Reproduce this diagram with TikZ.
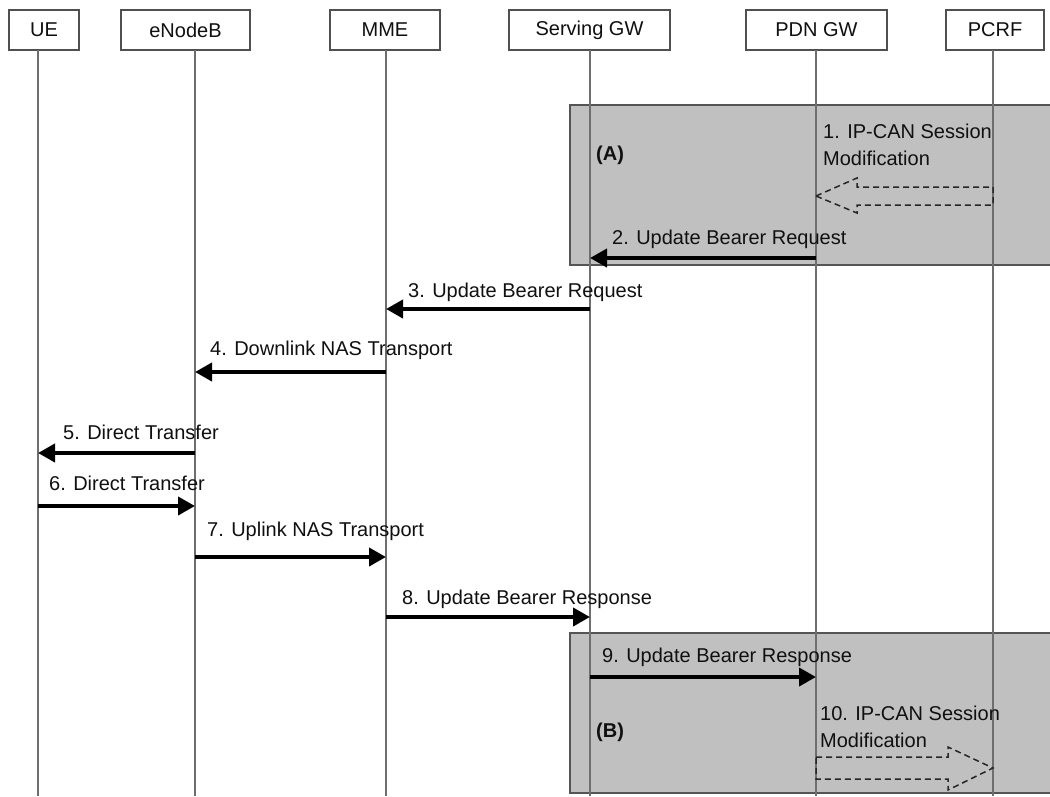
\documentclass[tikz,border=0pt]{standalone}
\usepackage{fontspec}
\setmainfont{Liberation Sans}
\usetikzlibrary{arrows.meta}
\definecolor{hdrc}{HTML}{505050}
\definecolor{lifec}{HTML}{6E6E6E}
\definecolor{regc}{HTML}{C0C0C0}
\definecolor{regb}{HTML}{555555}
\definecolor{txt}{HTML}{101010}
\begin{document}
\begin{tikzpicture}[x=1pt,y=-1pt,
  hdr/.style={draw=hdrc, line width=1.5pt, fill=white, minimum height=40pt, inner sep=0pt, font=\fontsize{20}{24}\selectfont, text=txt},
  life/.style={draw=lifec, line width=1.4pt},
  region/.style={fill=regc, draw=regb, line width=1.5pt},
  msg/.style={line width=4pt, -{Triangle[length=17pt,width=18pt]}},
  lbl/.style={anchor=base west, inner sep=0pt, font=\fontsize{20}{24}\selectfont, text=txt},
  blk/.style={draw=black!85, dash pattern=on 6pt off 4pt, line width=1.5pt},
]
\useasboundingbox[fill=white] (0,0) rectangle (1050,796);

% shaded regions
\fill[region] (570,105) rectangle (1060,265);
\fill[region] (570,633) rectangle (1060,793);
\draw[regb, line width=1.5pt] (1060,105) -- (570,105) -- (570,265) -- (1060,265);
\draw[regb, line width=1.5pt] (1060,633) -- (570,633) -- (570,793) -- (1060,793);

% headers
\node[hdr, minimum width=70pt]  (ue)   at (44,30)    {UE};
\node[hdr, minimum width=129pt] (enb)  at (185.5,30) {eNodeB};
\node[hdr, minimum width=110pt] (mme)  at (385,30)   {MME};
\node[hdr, minimum width=161pt] (sgw)  at (589.5,30) {Serving GW};
\node[hdr, minimum width=141pt] (pdn)  at (816.5,30) {PDN GW};
\node[hdr, minimum width=98pt]  (pcrf) at (995,30)   {PCRF};

% lifelines
\coordinate (lUE)   at (38,50);
\coordinate (lENB)  at (195,50);
\coordinate (lMME)  at (386,50);
\coordinate (lSGW)  at (590,50);
\coordinate (lPDN)  at (816,50);
\coordinate (lPCRF) at (993,50);
\foreach \c in {lUE,lENB,lMME,lSGW,lPDN,lPCRF}
  \draw[life] (\c) -- (\c |- 0,796);

% region labels
\node[lbl, font=\fontsize{20}{24}\selectfont\bfseries] (ra) at (596,160) {(A)};
\node[lbl, font=\fontsize{20}{24}\selectfont\bfseries] (rb) at (596,737) {(B)};

% 1. IP-CAN Session Modification (dashed block arrow to the left)
\node[lbl] (l1a) at (823,138) {1. IP-CAN Session};
\node[lbl] (l1b) at (823,165) {Modification};
\draw[blk] (lPDN |- 0,196) -- (857,178) -- (857,187) -- (lPCRF |- 0,187)
  -- (lPCRF |- 0,205) -- (857,205) -- (857,213) -- cycle;

% messages
\draw[msg] (lPDN |- 0,258) -- (lSGW |- 0,258);
\node[lbl] (l2) at (612,244) {2. Update Bearer Request};

\draw[msg] (lSGW |- 0,309) -- (lMME |- 0,309);
\node[lbl] (l3) at (408,297) {3. Update Bearer Request};

\draw[msg] (lMME |- 0,372) -- (lENB |- 0,372);
\node[lbl] (l4) at (210,355) {4. Downlink NAS Transport};

\draw[msg] (lENB |- 0,453) -- (lUE |- 0,453);
\node[lbl] (l5) at (63,439) {5. Direct Transfer};

\draw[msg] (lUE |- 0,506) -- (lENB |- 0,506);
\node[lbl] (l6) at (49,490) {6. Direct Transfer};

\draw[msg] (lENB |- 0,557) -- (lMME |- 0,557);
\node[lbl] (l7) at (207,536) {7. Uplink NAS Transport};

\draw[msg] (lMME |- 0,617) -- (lSGW |- 0,617);
\node[lbl] (l8) at (402,604) {8. Update Bearer Response};

\draw[msg] (lSGW |- 0,677) -- (lPDN |- 0,677);
\node[lbl] (l9) at (602,662) {9. Update Bearer Response};

% 10. IP-CAN Session Modification (dashed block arrow to the right)
\node[lbl] (l10a) at (820,720) {10. IP-CAN Session};
\node[lbl] (l10b) at (820,747) {Modification};
\draw[blk] (lPDN |- 0,757) -- (948,757) -- (948,747) -- (lPCRF |- 0,768)
  -- (948,790) -- (948,779) -- (lPDN |- 0,779) -- cycle;
\end{tikzpicture}
\end{document}
